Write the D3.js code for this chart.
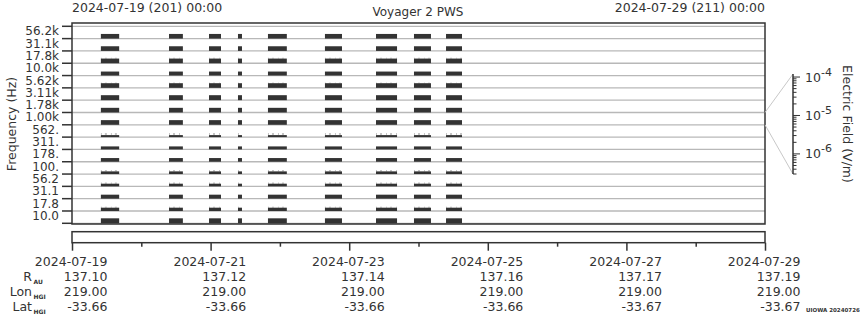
<!DOCTYPE html>
<html><head><meta charset="utf-8">
<script src="https://cdn.jsdelivr.net/npm/d3@7"></script>
<style>
body{margin:0;background:#fff;}
svg{display:block;font-family:"DejaVu Sans",sans-serif;}
</style></head><body>
<svg id="chart" width="860" height="320"></svg>
<script>
// ---------------- data ----------------
const freqLabels = ["56.2k","31.1k","17.8k","10.0k","5.62k","3.11k","1.78k","1.00k","562.","311.","178.","100.","56.2","31.1","17.8","10.0"];
// typical electric field level per channel (V/m)
const channelLevel = [2.9e-6,2.9e-6,2.9e-6,2.1e-6,2.9e-6,3.4e-6,2.9e-6,2.9e-6,8.0e-7,1.3e-6,1.8e-6,1.1e-6,1.1e-6,2.1e-6,1.5e-6,3.4e-6];
// occasional peak level per channel (V/m), 0 = none visible
const channelPeak  = [0,0,4.2e-6,0,3.4e-6,0,0,0,2.3e-6,0,0,2.1e-6,1.9e-6,0,2.4e-6,0];
// observation intervals (UTC)
const segStart = ["2024-07-19T10:00","2024-07-20T09:36","2024-07-20T23:27","2024-07-21T09:29","2024-07-21T19:52","2024-07-22T15:36","2024-07-23T09:17","2024-07-23T22:26","2024-07-24T09:32"];
const segEnd   = ["2024-07-19T16:20","2024-07-20T14:24","2024-07-21T03:36","2024-07-21T10:52","2024-07-22T02:24","2024-07-22T21:30","2024-07-23T16:34","2024-07-24T04:19","2024-07-24T15:04"];
const timeTicks = ["2024-07-19","2024-07-21","2024-07-23","2024-07-25","2024-07-27","2024-07-29"];
const rAU    = ["137.10","137.12","137.14","137.16","137.17","137.19"];
const lonHGI = ["219.00","219.00","219.00","219.00","219.00","219.00"];
const latHGI = ["-33.66","-33.66","-33.66","-33.66","-33.67","-33.67"];
const eMajorTicks = [1e-4,1e-5,1e-6];
const titleLeft = "2024-07-19 (201) 00:00";
const titleRight = "2024-07-29 (211) 00:00";
const titleMid = "Voyager 2 PWS";

// ---------------- drawing ----------------
const svg = d3.select("#chart");
const ink = "#333";
const FS = 12.5;
const parse = s => new Date(s + (s.length > 10 ? ":00Z" : "T00:00:00Z"));

const L = 72, R = 765, T = 23, B = 224;
const x = d3.scaleUtc().domain([parse("2024-07-19"), parse("2024-07-29")]).range([L, R]);
const y = d3.scaleBand().domain(freqLabels).range([26.3, 223.3]);
const bw = y.bandwidth();
const eDomain = [3e-7, 1.2e-4];
const eBand = d3.scaleLog().domain(eDomain).range([0, bw]);
const eAxis = d3.scaleLog().domain(eDomain).range([174, 74]);

// titles
svg.append("text").attr("x", L).attr("y", 12).attr("font-size", FS).attr("fill", ink).text(titleLeft);
svg.append("text").attr("x", R).attr("y", 12).attr("text-anchor", "end").attr("font-size", FS).attr("fill", ink).text(titleRight);
svg.append("text").attr("x", 418).attr("y", 15.5).attr("text-anchor", "middle").attr("font-size", 12).attr("fill", ink).text(titleMid);

// gridlines at band boundaries
const bounds = freqLabels.map(f => y(f)).concat([y(freqLabels[freqLabels.length-1]) + bw]);
svg.append("g").selectAll("line").data(bounds).join("line")
  .attr("x1", L).attr("x2", R).attr("y1", d => d).attr("y2", d => d)
  .attr("stroke", "#b8b8b8").attr("stroke-width", 1.3);

// peaks (grey speckle)
const segs = segStart.map((s, i) => ({s: parse(s), e: parse(segEnd[i])}));
const pk = svg.append("g");
segs.forEach(sg => {
  freqLabels.forEach((f, i) => {
    if (!channelPeak[i]) return;
    const base = y(f) + bw;
    const y0 = base - eBand(channelLevel[i]), y1 = base - eBand(channelPeak[i]);
    pk.append("line").attr("x1", x(sg.s)).attr("x2", x(sg.e))
      .attr("y1", (y0 + y1) / 2).attr("y2", (y0 + y1) / 2)
      .attr("stroke", "#c4c4c4").attr("stroke-width", Math.max(0.8, y0 - y1))
      .attr("stroke-dasharray", "1,3,2,4");
  });
});

// bars
const cells = [];
segs.forEach(sg => freqLabels.forEach((f, i) => cells.push({sg, f, v: channelLevel[i]})));
svg.append("g").selectAll("rect").data(cells).join("rect")
  .attr("x", d => x(d.sg.s)).attr("width", d => x(d.sg.e) - x(d.sg.s))
  .attr("y", d => y(d.f) + bw - eBand(d.v)).attr("height", d => eBand(d.v))
  .attr("fill", ink);

// frame
svg.append("rect").attr("x", L).attr("y", T).attr("width", R - L).attr("height", B - T)
  .attr("fill", "none").attr("stroke", ink).attr("stroke-width", 1.5);

// left ticks
svg.append("g").selectAll("line").data(bounds).join("line")
  .attr("x1", L - 10).attr("x2", L).attr("y1", d => d).attr("y2", d => d)
  .attr("stroke", ink).attr("stroke-width", 1.5);
svg.append("g").selectAll("text").data(freqLabels).join("text")
  .attr("x", 59).attr("y", d => y(d) + bw / 2 - 1.5).attr("dy", "0.36em")
  .attr("text-anchor", "end").attr("font-size", 12).attr("fill", ink).text(d => d);

svg.append("text").attr("transform", "translate(16,124) rotate(-90)")
  .attr("text-anchor", "middle").attr("font-size", FS).attr("fill", ink).text("Frequency (Hz)");

// lower time box
const tb = 231.7, bb = 242.7;
svg.append("rect").attr("x", L).attr("y", tb).attr("width", R - L).attr("height", bb - tb)
  .attr("fill", "none").attr("stroke", ink).attr("stroke-width", 1.5);
const days = d3.utcDay.range(parse("2024-07-19"), d3.utcDay.offset(parse("2024-07-29"), 1));
const axisG = svg.append("g").attr("transform", `translate(0,${bb})`)
  .call(d3.axisBottom(x).tickValues(days).tickSize(7).tickFormat(""));
axisG.select(".domain").remove();
axisG.selectAll(".tick line").attr("stroke", ink).attr("stroke-width", 1.5)
  .attr("y2", (d, i) => i % 2 === 0 ? 8 : 4);

// tick rows
const rows = [timeTicks, rAU, lonHGI, latHGI];
const rowY = [266, 281, 296, 311];
rows.forEach((arr, r) => {
  svg.append("g").selectAll("text").data(arr).join("text")
    .attr("x", (d, i) => x(parse(timeTicks[i])) + 35.5).attr("y", rowY[r])
    .attr("text-anchor", "end").attr("font-size", FS).attr("fill", ink).text(d => d);
});
const rowLab = [["R","AU"],["Lon","HGI"],["Lat","HGI"]];
rowLab.forEach((p, i) => {
  svg.append("text").attr("x", 32).attr("y", rowY[i+1]).attr("text-anchor", "end")
    .attr("font-size", FS).attr("fill", ink).text(p[0]);
  svg.append("text").attr("x", 33.5).attr("y", rowY[i+1] + 3).attr("font-size", 6)
    .attr("font-weight", "bold").attr("fill", ink).text(p[1]);
});

// watermark
svg.append("text").attr("x", 806).attr("y", 312).attr("font-size", 5.5).attr("font-weight", "bold")
  .attr("fill", ink).text("UIOWA 20240726");

// electric field scale
const ex = 793;
const band7 = freqLabels[7];
svg.append("line").attr("x1", R).attr("y1", y(band7)).attr("x2", ex).attr("y2", eAxis.range()[1])
  .attr("stroke", "#c8c8c8").attr("stroke-width", 1);
svg.append("line").attr("x1", R).attr("y1", y(band7) + bw).attr("x2", ex).attr("y2", eAxis.range()[0])
  .attr("stroke", "#c8c8c8").attr("stroke-width", 1);
svg.append("line").attr("x1", ex).attr("x2", ex).attr("y1", 74).attr("y2", 174)
  .attr("stroke", ink).attr("stroke-width", 1.5);
const minor = [];
for (let e = -7; e <= -4; e++) for (let k = 1; k <= 9; k++) {
  const v = k * Math.pow(10, e);
  if (v >= eDomain[0] && v <= eDomain[1]) minor.push(v);
}
svg.append("g").selectAll("line").data(minor).join("line")
  .attr("x1", ex).attr("x2", d => eMajorTicks.some(m => Math.abs(m - d) / m < 1e-6) ? ex + 7 : ex + 3.5)
  .attr("y1", d => eAxis(d)).attr("y2", d => eAxis(d)).attr("stroke", ink).attr("stroke-width", 1);
const el = svg.append("g").selectAll("text").data(eMajorTicks).join("text")
  .attr("x", 805).attr("y", d => eAxis(d) + 4.5).attr("font-size", FS).attr("fill", ink);
el.append("tspan").text("10");
el.append("tspan").attr("dy", -6).attr("font-size", 11).text(d => String(Math.round(Math.log10(d))));
svg.append("text").attr("transform", "translate(843,124) rotate(90)")
  .attr("text-anchor", "middle").attr("font-size", FS).attr("fill", ink).text("Electric Field (V/m)");
</script>
</body></html>
